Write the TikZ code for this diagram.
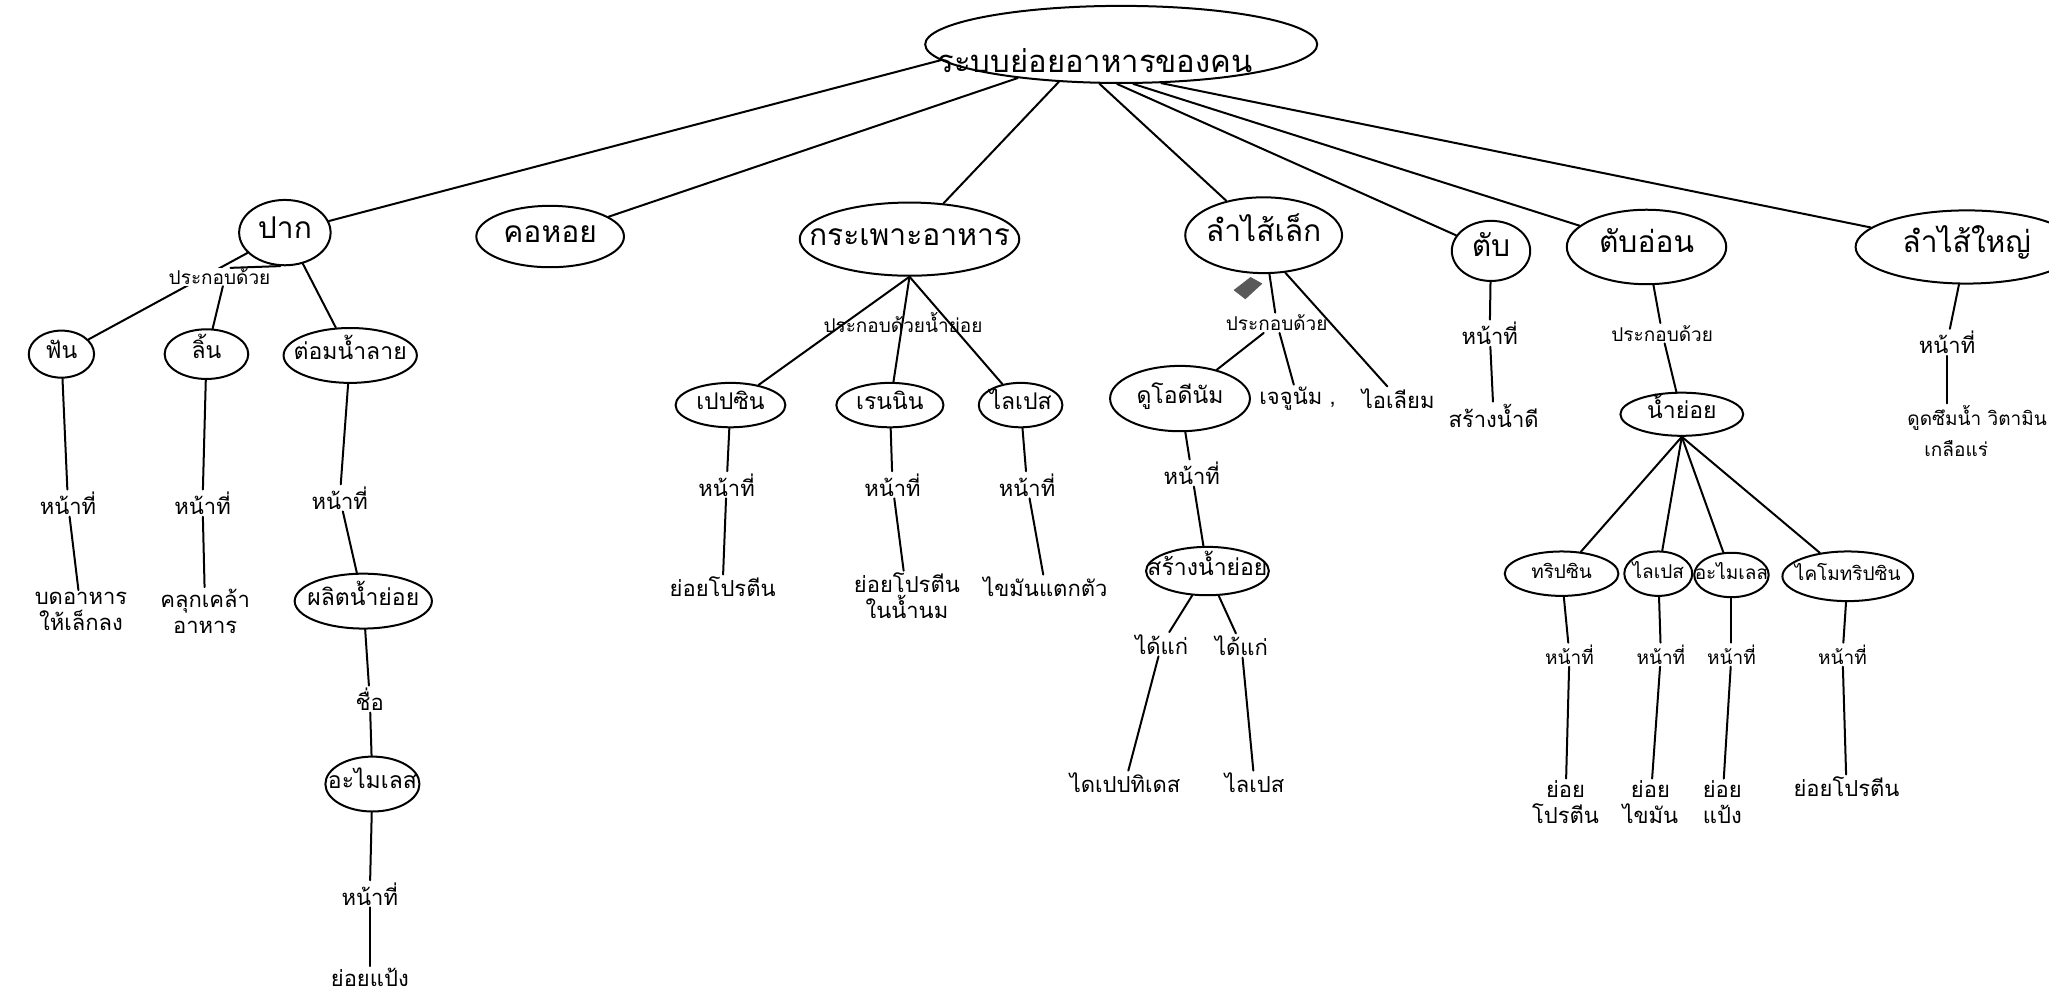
\documentclass[tikz,border=0pt]{standalone}
\usepackage{fontspec}
\newfontfamily\thaif[Script=Thai]{Loma}
\usetikzlibrary{shapes.geometric}
\newcommand{\E}[1]{\makebox[0pt][c]{#1}}
\begin{document}
\begin{tikzpicture}[x=1.3068pt,y=-1.3068pt,
  every node/.style={inner sep=2pt},
  ell/.style 2 args={ellipse, draw, line width=2pt, inner sep=0pt, text height=14pt, text depth=2pt,
     minimum width=#1*1.3068pt, minimum height=#2*1.3068pt, font=\thaif\fontsize{30}{32}\selectfont},
  sub/.style 2 args={ell={#1}{#2}, font=\thaif\fontsize{23}{25}\selectfont, text height=11pt},
  lbl/.style={font=\thaif\fontsize{22}{26}\selectfont, align=center},
  small/.style={font=\thaif\fontsize{19}{22}\selectfont},
  ln/.style={line width=2pt, line cap=round},
]
\useasboundingbox[fill=white] (0,0) rectangle (1568,769);

% root
\node[ell={300}{59}] (root) at (858,34) {};
\node[lbl, font=\thaif\fontsize{31}{33}\selectfont] (roottxt) at (838,46) {ระบบย่อยอาหารของคน};

% level 1
\node[ell={70}{50}] (pak) at (218,178) {\E{ปาก}};
\node[ell={113}{47}] (kho) at (421,181) {\E{คอหอย}};
\node[ell={168}{56}] (kra) at (696,183) {\E{กระเพาะอาหาร}};
\node[ell={120}{58}] (lek) at (967,180) {\E{ลำไส้เล็ก}};
\node[ell={60}{46}] (tab) at (1141,192) {\E{ตับ}};
\node[ell={122}{57}] (tabon) at (1260,189) {\E{ตับอ่อน}};
\node[ell={170}{56}] (yai) at (1505,189) {\E{ลำไส้ใหญ่}};

\draw[ln] (root.185) -- (pak);
\draw[ln] (root.198) -- (kho);
\draw[ln] (root.211) -- (kra);
\draw[ln] (root.241) -- (lek);
\draw[ln] (root.264) -- (tab);
\draw[ln] (root.287) -- (tabon);
\draw[ln] (root.316) -- (yai);

% mouth
\node[sub={50}{36}] (fan) at (47,271) {\E{ฟัน}};
\node[sub={64}{38}] (lin) at (158,271) {\E{ลิ้น}};
\node[sub={102}{42}] (tom) at (268,272) {\E{ต่อมน้ำลาย}};
\draw[ln] (pak) -- (fan);
\node[lbl, small, fill=white, inner sep=1pt] (lab1) at (168,212) {ประกอบด้วย};
\draw[ln] (pak.262) -- (lab1.40);
\draw[ln] (lab1.-70) -- (lin);
\draw[ln] (pak.300) -- (tom);
\node[lbl] (h1) at (52,385) {หน้าที่};
\node[lbl] (h2) at (155,385) {หน้าที่};
\node[lbl] (h3) at (260,381) {หน้าที่};
\node[lbl] (r1) at (62,468) {บดอาหาร\\ให้เล็กลง};
\node[lbl] (r2) at (157,468) {คลุกเคล้า\\อาหาร};
\node[sub={105}{42}] (plit) at (278,460) {\E{ผลิตน้ำย่อย}};
\node[lbl] (chue) at (283,535) {ชื่อ};
\node[sub={72}{42}] (amy1) at (285,600) {\E{อะไมเลส}};
\node[lbl] (h4) at (283,684) {หน้าที่};
\node[lbl] (r3) at (283,748) {ย่อยแป้ง};
\draw[ln] (fan) -- (h1);
\draw[ln] (h1) -- (r1);
\draw[ln] (lin) -- (h2);
\draw[ln] (h2) -- (r2);
\draw[ln] (tom) -- (h3);
\draw[ln] (h3) -- (plit);
\draw[ln] (plit) -- (chue);
\draw[ln] (chue) -- (amy1);
\draw[ln] (amy1) -- (h4);
\draw[ln] (h4) -- (r3);

% stomach
\node[lbl, small] (lab2) at (691,247) {ประกอบด้วยน้ำย่อย};
\node[sub={84}{34}] (pep) at (559,310) {\E{เปปซิน}};
\node[sub={82}{34}] (ren) at (681,310) {\E{เรนนิน}};
\node[sub={64}{34}] (lip1) at (781,310) {\E{ไลเปส}};
\draw[ln] (kra.south) -- (pep);
\draw[ln] (kra.south) -- (ren);
\draw[ln] (kra.south) -- (lip1);
\node[lbl] (h5) at (556,371) {หน้าที่};
\node[lbl] (h6) at (683,371) {หน้าที่};
\node[lbl] (h7) at (786,371) {หน้าที่};
\node[lbl] (r4) at (553,449) {ย่อยโปรตีน};
\node[lbl] (r5) at (694,456) {ย่อยโปรตีน\\ในน้ำนม};
\node[lbl] (r6) at (800,449) {ไขมันแตกตัว};
\draw[ln] (pep) -- (h5);
\draw[ln] (h5) -- (r4);
\draw[ln] (ren) -- (h6);
\draw[ln] (h6) -- (r5);
\draw[ln] (lip1) -- (h7);
\draw[ln] (h7) -- (r6);

% small intestine
\node[lbl, small] (lab3) at (977,247) {ประกอบด้วย};
\node[sub={107}{50}] (duo) at (903,305) {\E{ดูโอดีนัม}};
\node[lbl] (jej) at (993,305) {เจจูนัม ,};
\node[lbl] (ile) at (1070,305) {ไอเลียม};
\fill[black!65] (944,222) -- (957,212) -- (966,217) -- (953,229) -- cycle;
\draw[ln] (lek) -- (lab3);
\draw[ln] (lab3) -- (duo);
\draw[ln] (lab3) -- (jej);
\draw[ln] (lek.300) -- (ile);
\node[lbl] (h8) at (912,362) {หน้าที่};
\node[sub={94}{37}] (sang) at (924,437) {\E{สร้างน้ำย่อย}};
\node[lbl] (dk1) at (889,493) {ได้แก่};
\node[lbl] (dk2) at (950,494) {ได้แก่};
\node[lbl] (r7) at (861,599) {ไดเปปทิเดส};
\node[lbl] (r8) at (960,599) {ไลเปส};
\draw[ln] (duo) -- (h8);
\draw[ln] (h8) -- (sang);
\draw[ln] (sang) -- (dk1);
\draw[ln] (sang) -- (dk2);
\draw[ln] (dk1) -- (r7);
\draw[ln] (dk2) -- (r8);

% liver
\node[lbl] (h9) at (1140,255) {หน้าที่};
\node[lbl] (r9) at (1143,318) {สร้างน้ำดี};
\draw[ln] (tab) -- (h9);
\draw[ln] (h9) -- (r9);

% pancreas
\node[lbl, small] (lab4) at (1272,255) {ประกอบด้วย};
\node[sub={94}{33}] (nam) at (1287,317) {\E{น้ำย่อย}};
\node[sub={87}{34}, small] (tri) at (1195,439) {\E{ทริปซิน}};
\node[sub={52}{34}, small] (lip2) at (1269,439) {\E{ไลเปส}};
\node[sub={57}{34}, small] (amy2) at (1325,440) {\E{อะไมเลส}};
\node[sub={100}{38}, small] (kym) at (1414,441) {\E{ไคโมทริปซิน}};
\draw[ln] (tabon) -- (lab4);
\draw[ln] (lab4) -- (nam);
\draw[ln] (nam.south) -- (tri);
\draw[ln] (nam.south) -- (lip2);
\draw[ln] (nam.south) -- (amy2);
\draw[ln] (nam.south) -- (kym);
\node[lbl, small] (h10) at (1201,501) {หน้าที่};
\node[lbl, small] (h11) at (1271,501) {หน้าที่};
\node[lbl, small] (h12) at (1325,501) {หน้าที่};
\node[lbl, small] (h13) at (1410,501) {หน้าที่};
\node[lbl] (r10) at (1198,614) {ย่อย\\โปรตีน};
\node[lbl] (r11) at (1263,614) {ย่อย\\ไขมัน};
\node[lbl] (r12) at (1318,614) {ย่อย\\แป้ง};
\node[lbl] (r13) at (1413,602) {ย่อยโปรตีน};
\draw[ln] (tri) -- (h10);
\draw[ln] (h10) -- (r10);
\draw[ln] (lip2) -- (h11);
\draw[ln] (h11) -- (r11);
\draw[ln] (amy2) -- (h12);
\draw[ln] (h12) -- (r12);
\draw[ln] (kym) -- (h13);
\draw[ln] (h13) -- (r13);

% large intestine
\node[lbl] (h14) at (1490,262) {หน้าที่};
\node[lbl, small, anchor=west] (r14) at (1458,320) {ดูดซึมน้ำ วิตามิน};
\node[lbl, small] (r15) at (1497,343) {เกลือแร่};
\draw[ln] (yai) -- (h14);
\draw[ln] (h14) -- (h14 |- r14.north);
\end{tikzpicture}
\end{document}
